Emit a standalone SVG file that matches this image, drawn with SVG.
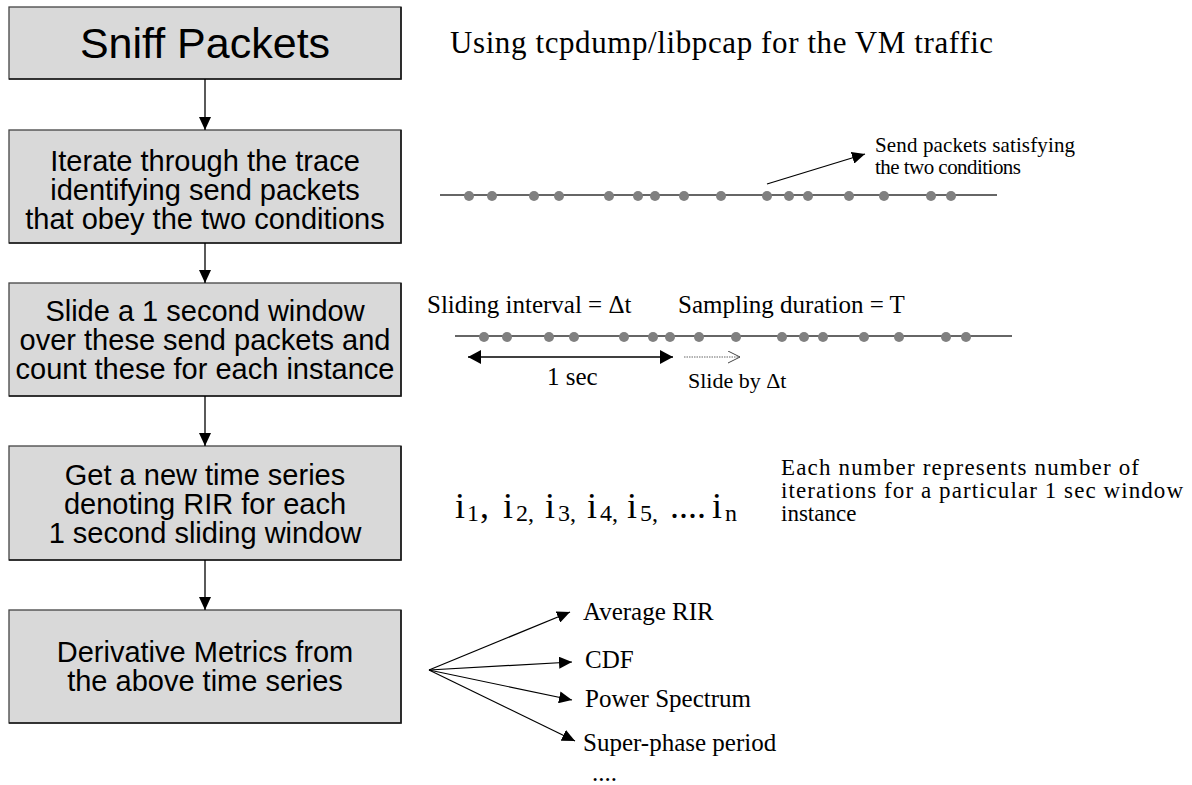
<svg xmlns="http://www.w3.org/2000/svg" width="1192" height="785" viewBox="0 0 1192 785">
  <defs>
    <marker id="head" markerUnits="userSpaceOnUse" markerWidth="14" markerHeight="12" refX="13" refY="6" orient="auto">
      <path d="M0,0 L13,6 L0,12 z" fill="#000"/>
    </marker>
    <marker id="head-rev" markerUnits="userSpaceOnUse" markerWidth="14" markerHeight="14" refX="13" refY="7" orient="auto-start-reverse">
      <path d="M0,0 L13,7 L0,14 z" fill="#000"/>
    </marker>
    <marker id="head-wide" markerUnits="userSpaceOnUse" markerWidth="14" markerHeight="14" refX="13" refY="7" orient="auto">
      <path d="M0,0 L13,7 L0,14 z" fill="#000"/>
    </marker>
    <marker id="chevron" markerUnits="userSpaceOnUse" markerWidth="14" markerHeight="14" refX="12" refY="6" orient="auto">
      <path d="M0,0 L12,6 L0,12" fill="none" stroke="#444" stroke-width="1"/>
    </marker>
    <circle id="pkt" r="5" fill="#808080"/>
  </defs>
  <style>
    .box rect { fill: #d9d9d9; stroke: #444; stroke-width: 1.3; }
    .box .edge { fill: none; stroke: #1a1a1a; stroke-width: 1.6; }
    .box text { font-family: "Liberation Sans", Arial, sans-serif; font-size: 29px; text-anchor: middle; fill: #000; }
    .note { font-family: "Liberation Serif", "Times New Roman", serif; fill: #000; }
    .flow line { stroke: #000; stroke-width: 1.3; marker-end: url(#head); }
    .track { stroke: #333; stroke-width: 1.5; }
  </style>

  <rect width="1192" height="785" fill="#fff"/>

  <!-- process boxes (darker right/bottom edge) -->
  <g id="sniff" class="box">
    <rect x="9" y="7" width="392" height="72"/>
    <path class="edge" d="M401,7 V79 H9"/>
    <text x="205" y="58" style="font-size:43px">Sniff Packets</text>
  </g>
  <g id="iterate" class="box">
    <rect x="9" y="130" width="392" height="113"/>
    <path class="edge" d="M401,130 V243 H9"/>
    <text x="205" y="171">Iterate through the trace</text>
    <text x="205" y="200">identifying send packets</text>
    <text x="205" y="229">that obey the two conditions</text>
  </g>
  <g id="slide" class="box">
    <rect x="9" y="283" width="392" height="113"/>
    <path class="edge" d="M401,283 V396 H9"/>
    <text x="205" y="321">Slide a 1 second window</text>
    <text x="205" y="350">over these send packets and</text>
    <text x="205" y="379">count these for each instance</text>
  </g>
  <g id="series" class="box">
    <rect x="9" y="446" width="392" height="114"/>
    <path class="edge" d="M401,446 V560 H9"/>
    <text x="205" y="485">Get a new time series</text>
    <text x="205" y="514">denoting RIR for each</text>
    <text x="205" y="543">1 second sliding window</text>
  </g>
  <g id="metrics" class="box">
    <rect x="9" y="610" width="392" height="113"/>
    <path class="edge" d="M401,610 V723 H9"/>
    <text x="205" y="662">Derivative Metrics from</text>
    <text x="205" y="691">the above time series</text>
  </g>

  <!-- flow connectors -->
  <g id="connectors" class="flow">
    <line x1="205" y1="79" x2="205" y2="130"/>
    <line x1="205" y1="243" x2="205" y2="283"/>
    <line x1="205" y1="396" x2="205" y2="446"/>
    <line x1="205" y1="560" x2="205" y2="610"/>
  </g>

  <!-- capture note -->
  <g id="capture-note">
    <text class="note" x="450" y="53" font-size="31" letter-spacing="0.6">Using tcpdump/libpcap for the VM traffic</text>
  </g>

  <!-- filtered packet trace -->
  <g id="trace">
    <line class="track" x1="440" y1="195" x2="997" y2="195"/>
    <g transform="translate(0,196)">
      <use href="#pkt" x="469"/><use href="#pkt" x="492"/><use href="#pkt" x="534"/><use href="#pkt" x="559"/>
      <use href="#pkt" x="609"/><use href="#pkt" x="638"/><use href="#pkt" x="655"/><use href="#pkt" x="684"/>
      <use href="#pkt" x="721"/><use href="#pkt" x="767"/><use href="#pkt" x="789"/><use href="#pkt" x="808"/>
      <use href="#pkt" x="849"/><use href="#pkt" x="884"/><use href="#pkt" x="931"/><use href="#pkt" x="951"/>
    </g>
    <line x1="767" y1="184" x2="865" y2="154" stroke="#000" stroke-width="1.3" marker-end="url(#head)"/>
    <text class="note" x="875" y="152" font-size="21" textLength="200" lengthAdjust="spacing">Send packets satisfying</text>
    <text class="note" x="875" y="174" font-size="21" textLength="146" lengthAdjust="spacing">the two conditions</text>
  </g>

  <!-- sliding window -->
  <g id="window">
    <text class="note" x="427" y="313" font-size="25">Sliding interval = Δt</text>
    <text class="note" x="678" y="313" font-size="25">Sampling duration = T</text>
    <line class="track" x1="455" y1="336" x2="1012" y2="336"/>
    <g transform="translate(15,337)">
      <use href="#pkt" x="469"/><use href="#pkt" x="492"/><use href="#pkt" x="534"/><use href="#pkt" x="559"/>
      <use href="#pkt" x="609"/><use href="#pkt" x="638"/><use href="#pkt" x="655"/><use href="#pkt" x="684"/>
      <use href="#pkt" x="721"/><use href="#pkt" x="767"/><use href="#pkt" x="789"/><use href="#pkt" x="808"/>
      <use href="#pkt" x="849"/><use href="#pkt" x="884"/><use href="#pkt" x="931"/><use href="#pkt" x="951"/>
    </g>
    <line x1="468" y1="357" x2="673" y2="357" stroke="#000" stroke-width="1.5" marker-start="url(#head-rev)" marker-end="url(#head-wide)"/>
    <line x1="684" y1="357" x2="740" y2="357" stroke="#666" stroke-width="1" stroke-dasharray="1.5 1" marker-end="url(#chevron)"/>
    <text class="note" x="547" y="385" font-size="25">1 sec</text>
    <text class="note" x="688" y="388" font-size="22">Slide by Δt</text>
  </g>

  <!-- RIR series -->
  <g id="rir-series" class="note">
    <text x="455" y="518" font-size="36">i</text>
    <text x="467" y="521" font-size="24">1</text>
    <text x="480" y="518" font-size="36">,</text>
    <text x="503" y="518" font-size="36">i</text>
    <text x="516" y="521" font-size="24">2,</text>
    <text x="545" y="518" font-size="36">i</text>
    <text x="558" y="521" font-size="24">3,</text>
    <text x="587" y="518" font-size="36">i</text>
    <text x="600" y="521" font-size="24">4,</text>
    <text x="627" y="518" font-size="36">i</text>
    <text x="640" y="521" font-size="24">5,</text>
    <text x="670" y="518" font-size="36">....</text>
    <text x="712" y="518" font-size="36">i</text>
    <text x="725" y="521" font-size="24">n</text>
  </g>
  <g id="rir-note" class="note" font-size="23">
    <text x="781" y="475" textLength="358" lengthAdjust="spacing">Each number represents number of</text>
    <text x="781" y="498" textLength="402" lengthAdjust="spacing">iterations for a particular 1 sec window</text>
    <text x="781" y="521">instance</text>
  </g>

  <!-- derived metrics -->
  <g id="fan" stroke="#000" stroke-width="1.2">
    <line x1="429" y1="670" x2="570" y2="612" marker-end="url(#head)"/>
    <line x1="429" y1="670" x2="572" y2="662" marker-end="url(#head)"/>
    <line x1="429" y1="670" x2="572" y2="700" marker-end="url(#head)"/>
    <line x1="429" y1="670" x2="575" y2="741" marker-end="url(#head)"/>
  </g>
  <g id="metric-list" class="note" font-size="25">
    <text x="583" y="620">Average RIR</text>
    <text x="585" y="668">CDF</text>
    <text x="585" y="707">Power Spectrum</text>
    <text x="583" y="751">Super-phase period</text>
    <text x="592" y="781">....</text>
  </g>
</svg>
